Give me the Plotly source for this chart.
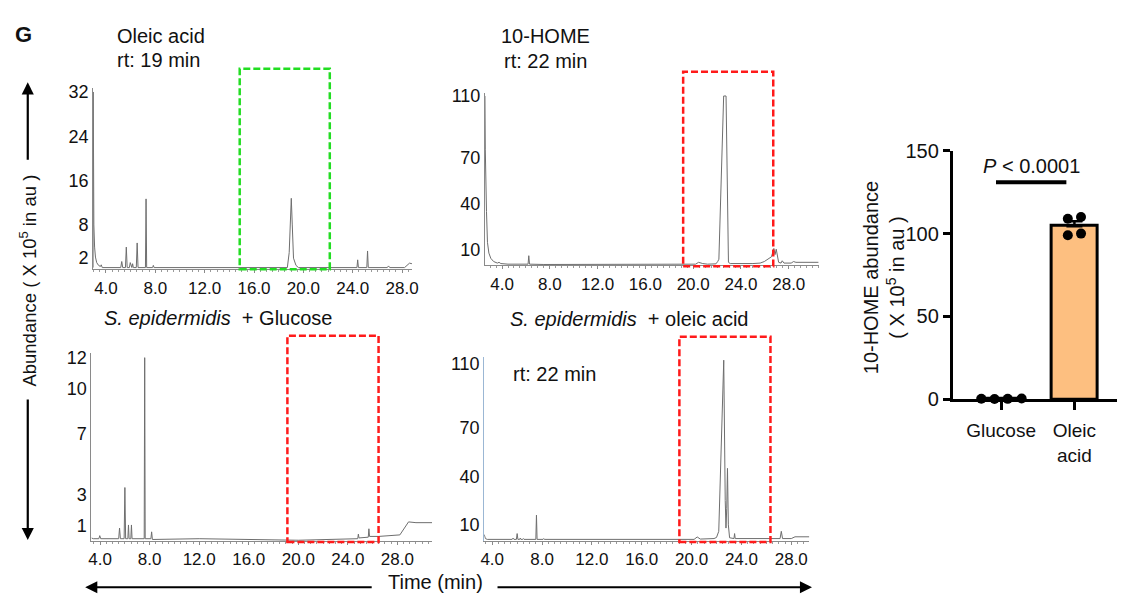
import plotly.graph_objects as go

W, H = 1124, 605
FONT = "Arial, Liberation Sans, sans-serif"
TRACE_COLOR = "#6e6e6e"

# ---- chromatogram data (retention time in min, abundance x10^5 au) ----
oleic_std_t = [2.96, 2.97, 3.02, 3.08, 3.15, 3.25, 3.4, 3.55, 3.62, 3.7, 5.2, 5.28, 5.36,
               5.58, 5.65, 5.72, 5.9, 5.97, 6.04, 6.1, 6.16, 6.22, 6.46, 6.53, 6.6, 7.2,
               7.25, 7.3, 7.78, 7.84, 7.9, 18.7, 18.85, 18.95, 19.02, 19.1, 19.2, 19.4,
               19.6, 24.34, 24.4, 24.46, 25.14, 25.2, 25.26, 26.8, 26.9, 27.0, 28.2, 28.6, 28.8]
oleic_std_y = [0.3, 32, 8, 4, 2.2, 1.2, 0.7, 0.5, 0.8, 0.3, 0.3, 1.4, 0.3,
               0.3, 4.0, 0.3, 0.3, 1.2, 0.3, 0.3, 1.0, 0.3, 0.3, 4.75, 0.3, 0.3,
               12.7, 0.3, 0.3, 0.7, 0.3, 0.3, 3, 11, 12.8, 8, 2, 0.7,
               0.3, 0.3, 1.7, 0.3, 0.3, 3.3, 0.3, 0.3, 0.6, 0.3, 0.3, 1.1, 1.0]

home_std_t = [2.57, 2.6, 2.7, 2.78, 2.9, 3.06, 3.3, 3.61, 3.75, 3.9, 4.5, 6.18, 6.24, 6.3,
              7.5, 19.8, 20.2, 20.45, 20.8, 21.2, 21.9, 22.05, 22.15, 22.55, 22.75, 22.95, 23.1,
              25.0, 25.6, 25.95, 26.3, 26.55, 26.75, 26.85, 26.95, 27.05, 27.15, 27.35,
              27.45, 27.6, 28.2, 28.4, 28.6, 30.5]
home_std_y = [110, 75, 35, 15, 8, 4.6, 2.5, 1.5, 2, 1.2, 0.8, 0.8, 6.3, 0.8,
              0.6, 0.6, 0.8, 2.0, 1.2, 0.8, 1.0, 2.5, 4, 110, 110, 2, 1.2,
              1.2, 1.5, 2.5, 4.5, 5.6, 11, 7, 10.5, 7, 2, 1.5,
              3, 1.5, 1.5, 2.5, 2.0, 2.0]

glucose_t = [3.3, 3.45, 3.9, 3.97, 4.05, 5.5, 5.57, 5.64, 5.94, 6.0, 6.06, 6.24, 6.29, 6.34,
             6.48, 6.53, 6.58, 7.56, 7.6, 7.64, 8.1, 8.16, 8.22, 12.0, 20.0, 24.8, 24.85,
             24.9, 25.65, 25.7, 25.75, 26.5, 28.2, 28.9, 29.5, 30.8]
glucose_y = [0.2, 0.15, 0.15, 0.35, 0.15, 0.15, 0.85, 0.15, 0.15, 3.5, 0.15, 0.15, 1.05, 0.15,
             0.15, 1.05, 0.15, 0.15, 12, 0.15, 0.15, 0.6, 0.1, 0.15, 0.05, 0.15, 0.45,
             0.2, 0.25, 0.8, 0.3, 0.3, 0.4, 1.25, 1.2, 1.2]

oleic_cult_t = [3.36, 3.45, 3.6, 5.6, 5.67, 5.74, 5.94, 6.0, 6.06, 6.2, 6.25, 6.3, 6.45, 6.5,
                6.55, 7.5, 7.55, 7.6, 8.08, 8.13, 8.18, 20.2, 20.45, 20.7, 21.8, 22.0, 22.18,
                22.4, 22.58, 22.7, 22.76, 22.82, 22.88, 22.95, 23.05, 23.4, 23.45, 23.5,
                27.1, 27.2, 27.3, 28.0, 28.3, 29.45]
oleic_cult_y = [4, 1.5, 1, 1, 1.8, 1, 1, 4.6, 1, 1, 1.8, 1, 1, 1.5,
                1, 1, 16, 1, 1, 1.5, 1, 1, 2.5, 1.2, 1.5, 2.2, 6,
                70, 112, 25, 8, 20, 45, 10, 2, 1.5, 4.6, 1.5,
                1.5, 6, 1.5, 1.5, 2.6, 2.6]

# highlighted retention windows (min)
green_window = [14.84, 22.14]
red_window_std = [19.16, 26.7]
red_window_glc = [19.12, 26.48]
red_window_ole = [19.02, 26.33]

# ---- bar chart data ----
groups = ["Glucose", "Oleic<br>acid"]
glucose_pts = [0.4, 0.2, 0.3, 0.5]
oleic_pts = [109, 110, 99, 100]
glucose_jit = [-0.27, -0.09, 0.09, 0.28]
oleic_jit = [-0.09, 0.09, -0.09, 0.09]


def mean(v):
    return sum(v) / len(v)


def sem(v):
    m = mean(v)
    var = sum((a - m) ** 2 for a in v) / (len(v) - 1)
    return (var ** 0.5) / (len(v) ** 0.5)


def px_x(p):
    return p / W


def px_y(p):
    return 1 - p / H


fig = go.Figure()

# panel layout in pixels: (x0, x1, y_bottom, y_top, xrange, yrange, ticks)
panels = [
    dict(t=oleic_std_t, y=oleic_std_y, xd=(90, 412), yd=(268, 80), xr=[2.96, 28.8],
         yr=[0, 32.7], yt=[2, 8, 16, 24, 32], lc="#8a8a8a"),
    dict(t=home_std_t, y=home_std_y, xd=(485.7, 822.7), yd=(264, 85), xr=[2.57, 30.5],
         yr=[0, 112], yt=[10, 40, 70, 110], lc="#8a8a8a"),
    dict(t=glucose_t, y=glucose_y, xd=(88.3, 432.3), yd=(550, 355), xr=[3.3, 30.8],
         yr=[0, 12.3], yt=[1, 3, 7, 10, 12], lc="#8a8a8a"),
    dict(t=oleic_cult_t, y=oleic_cult_y, xd=(485, 813.3), yd=(550, 359), xr=[3.36, 29.45],
         yr=[0, 114], yt=[10, 40, 70, 110], lc="#9bb7d4"),
]

for i, p in enumerate(panels, start=1):
    xa = "x" if i == 1 else f"x{i}"
    ya = "y" if i == 1 else f"y{i}"
    fig.add_trace(go.Scatter(x=p["t"], y=p["y"], mode="lines", xaxis=xa, yaxis=ya,
                             line=dict(color=TRACE_COLOR, width=1), showlegend=False,
                             hoverinfo="skip"))
    xkey = "xaxis" if i == 1 else f"xaxis{i}"
    ykey = "yaxis" if i == 1 else f"yaxis{i}"
    fig.update_layout(**{
        xkey: dict(domain=[px_x(p["xd"][0]), px_x(p["xd"][1])], range=p["xr"],
                   anchor=ya, showgrid=False, zeroline=False, showline=True,
                   linecolor="#8a8a8a", linewidth=1, ticks="outside", ticklen=3,
                   tickcolor="#8a8a8a", tickvals=[4, 8, 12, 16, 20, 24, 28],
                   tickformat=".1f", tickfont=dict(size=17, color="#111", family=FONT),
                   minor=dict(dtick=0.5, ticklen=2, tickcolor="#9a9a9a", ticks="outside")),
        ykey: dict(domain=[px_y(p["yd"][0]), px_y(p["yd"][1])], range=p["yr"],
                   anchor=xa, showgrid=False, zeroline=False, showline=True,
                   linecolor=p["lc"], linewidth=1, ticks="", tickvals=p["yt"],
                   tickfont=dict(size=18, color="#111", family=FONT)),
    })

# dashed retention windows
boxes = [("x", green_window, 268, 60, "#22dd22"),
         ("x2", red_window_std, 265, 63, "#ff1a1a"),
         ("x3", red_window_glc, 551, 337, "#ff1a1a"),
         ("x4", red_window_ole, 551, 338, "#ff1a1a")]
for xr, win, yb, yt, col in boxes:
    fig.add_shape(type="rect", xref=xr, yref="paper", x0=win[0], x1=win[1],
                  y0=px_y(yb), y1=px_y(yt), line=dict(color=col, width=2.5, dash="7px,3px"),
                  fillcolor="rgba(0,0,0,0)")

# ---- bar chart ----
bar_means = [mean(glucose_pts), mean(oleic_pts)]
bar_sems = [sem(glucose_pts), sem(oleic_pts)]
fig.add_trace(go.Bar(x=[0, 1], y=bar_means, width=0.62, xaxis="x5", yaxis="y5",
                     marker=dict(color=["#ffffff", "#fdbf80"], line=dict(color="black", width=3)),
                     error_y=dict(type="data", array=bar_sems, symmetric=False,
                                  arrayminus=[0, 0], color="black", thickness=2.5, width=8),
                     showlegend=False, hoverinfo="skip"))
fig.add_trace(go.Scatter(x=[0 + j for j in glucose_jit] + [1 + j for j in oleic_jit],
                         y=glucose_pts + oleic_pts, mode="markers", xaxis="x5", yaxis="y5",
                         marker=dict(color="black", size=10), showlegend=False,
                         hoverinfo="skip", cliponaxis=False))
fig.update_layout(
    xaxis5=dict(domain=[px_x(958), 1.0], range=[-0.662, 1.581], anchor="y5",
                showgrid=False, zeroline=False, showline=True, linecolor="black",
                linewidth=2.5, ticks="outside", ticklen=8, tickwidth=2.5, tickcolor="black",
                tickvals=[0, 1], ticktext=groups, ticklabelstandoff=4,
                tickfont=dict(size=19, color="#111", family=FONT)),
    yaxis5=dict(domain=[px_y(403), px_y(145)], range=[0, 150], anchor="x5",
                showgrid=False, zeroline=False, showline=True, linecolor="black",
                linewidth=2.5, ticks="outside", ticklen=7, tickwidth=2.5, tickcolor="black",
                tickvals=[0, 50, 100, 150], tickfont=dict(size=20, color="#111", family=FONT)),
)
fig.add_shape(type="line", xref="x5", yref="y5", x0=-0.07, x1=0.89, y0=131, y1=131,
              line=dict(color="black", width=4))

ann = []


def text(x, y, s, size=20, xanchor="left", **kw):
    ann.append(dict(x=px_x(x), y=px_y(y), xref="paper", yref="paper", text=s,
                    showarrow=False, xanchor=xanchor, yanchor="middle",
                    font=dict(size=size, color="#111", family=FONT), **kw))


text(20, 24, "<b>G</b>", size=22, xanchor="center")
text(112, 26, "Oleic acid")
text(112, 51, "rt: 19 min")
text(500, 26, "10-HOME")
text(503, 52, "rt: 22 min")
text(216, 319, "<i>S. epidermidis</i>  + Glucose", xanchor="center")
text(631, 320, "<i>S. epidermidis</i>  + oleic acid", xanchor="center")
text(512, 377, "rt: 22 min")
text(1038, 161, "<i>P</i> < 0.0001", size=20, xanchor="center")
text(436, 593, "Time (min)", size=20, xanchor="center")
text(889, 277, "10-HOME abundance<br>( X 10<sup>5</sup> in au )", size=20,
     xanchor="center", textangle=-90)
text(24, 280, "Abundance ( X 10<sup>5</sup> in au )", size=18.5, xanchor="center",
     textangle=-90)


def arrow(x0, y0, x1, y1):
    # head at (x1, y1), tail at (x0, y0), all in page pixels
    ann.append(dict(x=px_x(x1), y=px_y(y1), xref="paper", yref="paper",
                    ax=x0 - x1, ay=y0 - y1, axref="pixel", ayref="pixel",
                    text="", showarrow=True, arrowhead=2, arrowsize=1.1, arrowwidth=2.2,
                    arrowcolor="black"))


arrow(24, 153, 24, 74)
arrow(24, 407, 24, 549)
arrow(370, 598, 82, 598)
arrow(500, 598, 816, 598)

fig.update_layout(width=W, height=H, autosize=False, margin=dict(l=0, r=0, t=0, b=0),
                  paper_bgcolor="white", plot_bgcolor="white", annotations=ann,
                  font=dict(family=FONT), bargap=0)

fig.write_html("out.html")
